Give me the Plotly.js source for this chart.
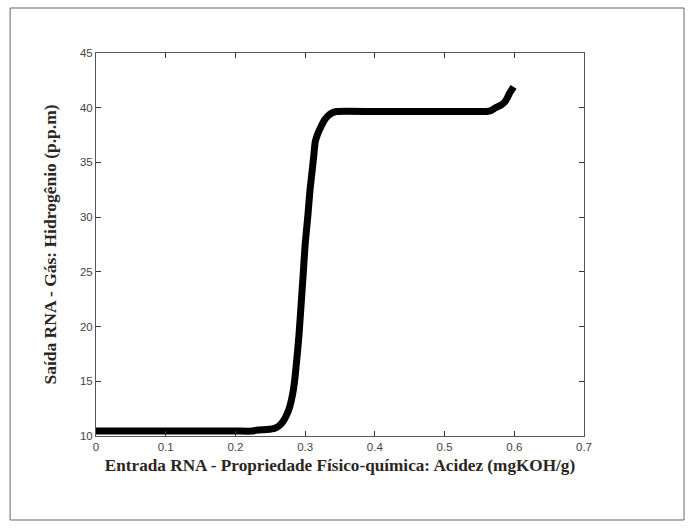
<!DOCTYPE html>
<html>
<head>
<meta charset="utf-8">
<script src="https://cdn.plot.ly/plotly-3.0.1.min.js"></script>
<style>html,body{margin:0;padding:0;background:#fff;}#chart{width:695px;height:530px;}</style>
</head>
<body>
<div id="chart"></div>
<script>
// Data
const acidez = [0, 0.05, 0.10, 0.15, 0.20, 0.225, 0.232, 0.245, 0.256, 0.263, 0.269, 0.274, 0.278, 0.282, 0.285, 0.288, 0.291, 0.294, 0.297, 0.300, 0.304, 0.307, 0.310, 0.3125, 0.3145, 0.318, 0.323, 0.328, 0.332, 0.338, 0.345, 0.40, 0.45, 0.50, 0.55, 0.560, 0.567, 0.573, 0.580, 0.586, 0.590, 0.593, 0.596, 0.599];
const hidrogenio = [10.45, 10.45, 10.45, 10.45, 10.45, 10.45, 10.55, 10.6, 10.7, 10.95, 11.4, 12.0, 12.7, 13.8, 15.1, 17.0, 19.1, 21.8, 24.6, 27.5, 30.2, 32.5, 34.2, 35.7, 36.9, 37.6, 38.3, 38.9, 39.2, 39.5, 39.65, 39.65, 39.65, 39.65, 39.65, 39.65, 39.75, 40.0, 40.2, 40.5, 40.9, 41.3, 41.6, 41.9];
const xTicks = [0, 0.1, 0.2, 0.3, 0.4, 0.5, 0.6, 0.7];
const xTickText = ['0', '0.1', '0.2', '0.3', '0.4', '0.5', '0.6', '0.7'];
const yTicks = [10, 15, 20, 25, 30, 35, 40, 45];
const xTitle = 'Entrada RNA - Propriedade Físico-química: Acidez (mgKOH/g)';
const yTitle = 'Saída RNA - Gás: Hidrogênio (p.p.m)';

const trace = {
  x: acidez, y: hidrogenio, type: 'scatter', mode: 'lines',
  line: {color: '#000', width: 7, shape: 'spline', smoothing: 0.5},
  hoverinfo: 'skip', showlegend: false
};

const tickFont = {family: 'Liberation Sans, Arial, sans-serif', size: 11.5, color: '#444'};
const xTitleFont = {family: 'Liberation Serif, Times New Roman, serif', size: 17.2, color: '#2b2622', weight: 'bold'};
const yTitleFont = {family: 'Liberation Serif, Times New Roman, serif', size: 17.5, color: '#2b2622', weight: 'bold'};

const axisCommon = {
  showgrid: false, zeroline: false, showline: true, linecolor: '#555', linewidth: 1,
  mirror: 'ticks', ticks: 'inside', ticklen: 5, tickwidth: 1, tickcolor: '#333',
  tickfont: tickFont, fixedrange: true
};

const layout = {
  width: 695, height: 530,
  margin: {l: 96, r: 111, t: 53, b: 94, pad: 0},
  paper_bgcolor: '#fff', plot_bgcolor: '#fff',
  xaxis: Object.assign({}, axisCommon, {
    range: [0, 0.7], tickvals: xTicks, ticktext: xTickText,
    ticklabelstandoff: 0,
    title: {text: xTitle, font: xTitleFont, standoff: 7}
  }),
  yaxis: Object.assign({}, axisCommon, {
    range: [10, 45], tickvals: yTicks,
    ticklabelstandoff: 0,
    title: {text: yTitle, font: yTitleFont, standoff: 18}
  }),
  shapes: [{
    type: 'rect', xref: 'paper', yref: 'paper',
    x0: -0.176, x1: 1.205, y0: -0.2193, y1: 1.1175,
    line: {color: '#666', width: 1}, fillcolor: 'rgba(0,0,0,0)', layer: 'below'
  }]
};

Plotly.newPlot('chart', [trace], layout, {displayModeBar: false, staticPlot: true});
</script>
</body>
</html>
